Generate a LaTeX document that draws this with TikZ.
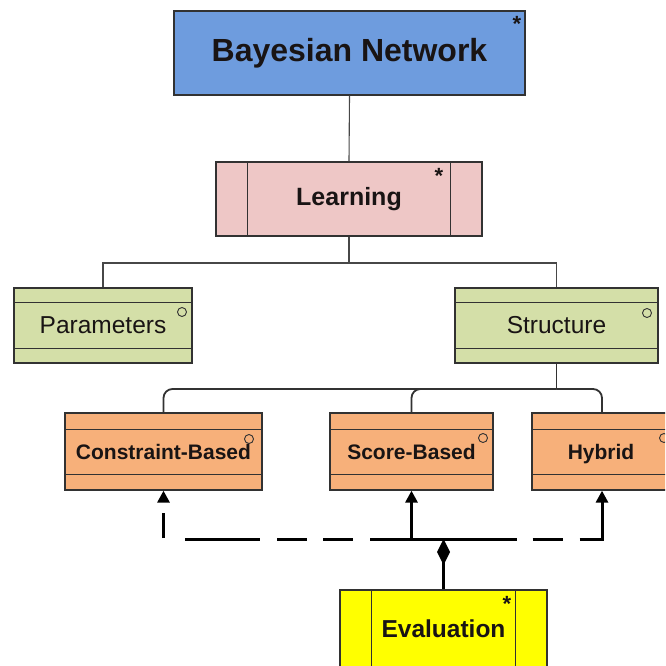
\documentclass[tikz,border=0pt]{standalone}
\usepackage{fontspec}
\setmainfont{Liberation Sans}
\usetikzlibrary{arrows.meta}
\definecolor{bnblue}{RGB}{110,156,222}
\definecolor{lrpink}{RGB}{238,199,198}
\definecolor{grn}{RGB}{212,223,168}
\definecolor{org}{RGB}{247,176,122}
\definecolor{yel}{RGB}{255,255,0}
\definecolor{boxline}{RGB}{50,50,50}
\definecolor{txt}{RGB}{25,20,20}
\begin{document}
\begin{tikzpicture}[x=1pt,y=-1pt,
  box/.style={draw=boxline, line width=1.3pt, inner sep=0pt, text=txt},
  sep/.style={draw=boxline, line width=1.2pt},
  tree/.style={draw=boxline!90, line width=1.1pt},
  tree2/.style={draw=boxline, line width=1.8pt, rounded corners=9pt},
  assoc/.style={line width=3pt, draw=black, -{Triangle[length=12pt,width=12pt]}},
  star/.style={font=\bfseries\fontsize{22}{22}\selectfont, inner sep=0pt, text=txt},
  mark circle/.style={draw=boxline, line width=0.9pt}
]
\useasboundingbox (0,0) rectangle (665,666);
\clip (0,0) rectangle (665,666);

% Bayesian Network
\node[box, fill=bnblue, minimum width=351pt, minimum height=84pt,
  font=\bfseries\fontsize{32}{32}\selectfont] (bn) at (349.5,53) {Bayesian Network};
\node[star] (bnstar) at (517,24) {*};

% Learning
\node[box, fill=lrpink, minimum width=266pt, minimum height=74pt,
  font=\bfseries\fontsize{25}{25}\selectfont] (lr) at (349,199) {Learning};
\draw[sep] ([xshift=32pt]lr.north west) -- ([xshift=32pt]lr.south west);
\draw[sep] ([xshift=-32pt]lr.north east) -- ([xshift=-32pt]lr.south east);
\node[star] (lrstar) at (439,176) {*};

% Parameters
\node[box, fill=grn, minimum width=178pt, minimum height=75pt,
  font=\fontsize{24.5}{24.5}\selectfont] (par) at (103,325.5) {Parameters};
\draw[sep] ([yshift=-15pt]par.north west) -- ([yshift=-15pt]par.north east);
\draw[sep] ([yshift=15pt]par.south west) -- ([yshift=15pt]par.south east);
\draw[mark circle] (182,312) circle (4.5pt);

% Structure
\node[box, fill=grn, minimum width=203pt, minimum height=75pt,
  font=\fontsize{24.5}{24.5}\selectfont] (str) at (556.5,325.5) {Structure};
\draw[sep] ([yshift=-15pt]str.north west) -- ([yshift=-15pt]str.north east);
\draw[sep] ([yshift=15pt]str.south west) -- ([yshift=15pt]str.south east);
\draw[mark circle] (647,313) circle (4.5pt);

% Constraint-Based
\node[box, fill=org, minimum width=197pt, minimum height=77pt,
  font=\bfseries\fontsize{21}{21}\selectfont] (cb) at (163.5,451.5) {Constraint-Based};
\draw[sep] ([yshift=-17pt]cb.north west) -- ([yshift=-17pt]cb.north east);
\draw[sep] ([yshift=16pt]cb.south west) -- ([yshift=16pt]cb.south east);
\draw[mark circle] (249,439) circle (4.5pt);

% Score-Based
\node[box, fill=org, minimum width=163pt, minimum height=77pt,
  font=\bfseries\fontsize{21}{21}\selectfont] (sb) at (411.5,451.5) {Score-Based};
\draw[sep] ([yshift=-17pt]sb.north west) -- ([yshift=-17pt]sb.north east);
\draw[sep] ([yshift=16pt]sb.south west) -- ([yshift=16pt]sb.south east);
\draw[mark circle] (483,438) circle (4.5pt);

% Hybrid
\node[box, fill=org, minimum width=140pt, minimum height=77pt] (hy) at (602,451.5) {};
\node[font=\bfseries\fontsize{21}{21}\selectfont, text=txt, inner sep=0pt, anchor=base] (hytext) at (601,459.5) {Hybrid};
\draw[sep] ([yshift=-17pt]hy.north west) -- ([yshift=-17pt]hy.north east);
\draw[sep] ([yshift=16pt]hy.south west) -- ([yshift=16pt]hy.south east);
\draw[mark circle] (664,438) circle (4.5pt);

% Evaluation
\node[box, fill=yel, minimum width=207pt, minimum height=78pt,
  font=\bfseries\fontsize{24.5}{24.5}\selectfont] (ev) at (443.5,629) {Evaluation};
\draw[sep] ([xshift=32pt]ev.north west) -- ([xshift=32pt]ev.south west);
\draw[sep] ([xshift=-32pt]ev.north east) -- ([xshift=-32pt]ev.south east);
\node[star] (evstar) at (507,604) {*};

% tree connectors
\coordinate (h1) at (349,263);
\draw[tree] (bn.south) -- (lr.north);
\draw[tree] (lr.south) -- (h1);
\draw[tree] (h1) -| (par.north);
\draw[tree] (h1) -| (str.north);

\coordinate (h2) at (556.5,389);
\draw[tree2] (str.south) -- (h2);
\draw[tree2] (h2) -| (cb.north);
\draw[tree2] (h2) -| (sb.north);
\draw[tree2] (h2) -| (hy.north);

% evaluation connectors
\coordinate (j) at (411.5,539);
\coordinate (d) at (443.5,539);
\draw[assoc] (j) -- (sb.south);
\draw[assoc, dash pattern=on 42pt off 17pt on 30pt off 16pt on 30pt off 17pt on 75pt off 22pt on 25pt off 40pt] (j) -| (cb.south);
\draw[assoc, dash pattern=on 105pt off 16pt on 30pt off 17pt on 60pt off 40pt] (j) -| (hy.south);
\draw[line width=3pt, {Diamond[length=26pt,width=13pt]}-] (d) -- (ev.north);
\end{tikzpicture}
\end{document}
